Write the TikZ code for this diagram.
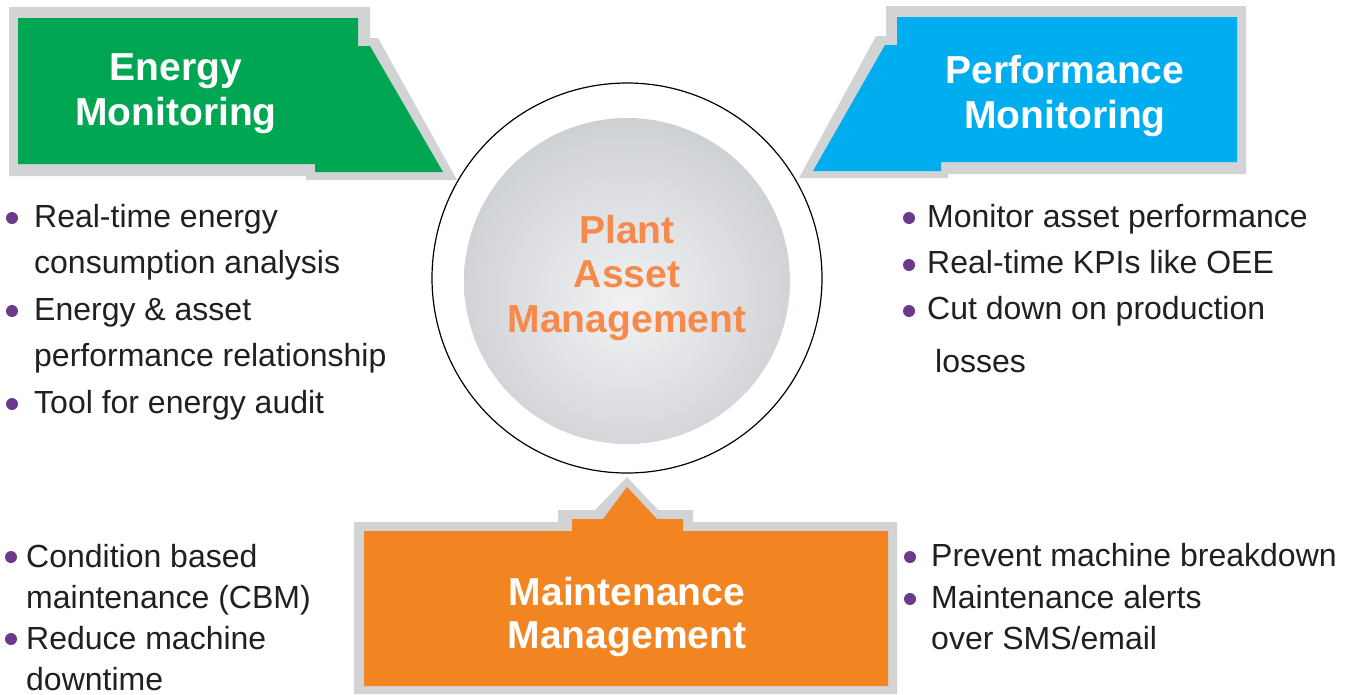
\documentclass[tikz,border=0pt]{standalone}
\usepackage{fontspec}
\setmainfont{Liberation Sans}
\definecolor{shadowgray}{RGB}{209,211,212}
\definecolor{emgreen}{RGB}{0,166,81}
\definecolor{pmblue}{RGB}{0,174,239}
\definecolor{mmorange}{RGB}{242,133,34}
\definecolor{hubtext}{RGB}{245,138,75}
\definecolor{bodytext}{RGB}{35,31,32}
\definecolor{dotpurple}{RGB}{108,58,140}
\pgfdeclareradialshading{diskshade}{\pgfpoint{0bp}{-4bp}}{rgb(0bp)=(0.95,0.95,0.96); rgb(25bp)=(0.82,0.83,0.84); rgb(54bp)=(0.63,0.64,0.66); rgb(60bp)=(0.63,0.64,0.66)}
\begin{document}
\begin{tikzpicture}[x=1pt,y=-1pt,
  title/.style={font=\fontsize{39}{44}\selectfont\bfseries, text=white, inner sep=0, anchor=base},
  item/.style={font=\fontsize{32}{38}\selectfont, text=bodytext, inner sep=0, anchor=base west},
  dot/.style={circle, fill=dotpurple, inner sep=0, minimum size=12},
  shadowshape/.style={fill=shadowgray}]
\useasboundingbox (0,0) rectangle (1356,694);
\fill[white] (0,0) rectangle (1356,694);

% central hub
\node[circle, draw=black, line width=1.2pt, minimum size=390, inner sep=0] (ring) at (627,278) {};
\node[circle, shade, shading=diskshade, minimum size=326, inner sep=0] (hub) at (627,281) {};
\node[title, text=hubtext] (pa1) at (627,243) {Plant};
\node[title, text=hubtext] (pa2) at (627,287.5) {Asset};
\node[title, text=hubtext] (pa3) at (627,332) {Management};

% Energy Monitoring
\fill[shadowshape] (9,7) -- (370,7) -- (370,38) -- (378,38) -- (457,180) -- (306,180) -- (306,176) -- (9,176) -- cycle;
\fill[emgreen] (18,18) -- (358,18) -- (358,46) -- (370,46) -- (443,172) -- (315,172) -- (315,164) -- (18,164) -- cycle;
\node[title] (em1) at (176,80) {Energy};
\node[title] (em2) at (176,125) {Monitoring};

% Performance Monitoring
\fill[shadowshape] (886,6) -- (1246,6) -- (1246,174) -- (948,174) -- (948,178) -- (799,178) -- (876,36) -- (886,36) -- cycle;
\fill[pmblue] (897,17) -- (1237,17) -- (1237,162) -- (941,162) -- (941,171) -- (813,171) -- (885,45) -- (897,45) -- cycle;
\node[title] (pm1) at (1065,83) {Performance};
\node[title] (pm2) at (1065,128) {Monitoring};

% Maintenance Management
\fill[shadowshape] (354,522) -- (558,522) -- (558,510) -- (595,510) -- (627,477) -- (658,510) -- (693,510) -- (693,522) -- (897,522) -- (897,694) -- (354,694) -- cycle;
\fill[mmorange] (364,531) -- (572,531) -- (572,519) -- (603,519) -- (627,487) -- (657,519) -- (683,519) -- (683,531) -- (888,531) -- (888,686) -- (364,686) -- cycle;
\node[title] (mm1) at (627,605) {Maintenance};
\node[title] (mm2) at (627,648) {Management};

% top-left list
\node[dot] (d1) at (12,218) {};
\node[item] (t1) at (34,227) {Real-time energy};
\node[item] (t2) at (34,273) {consumption analysis};
\node[dot] (d2) at (12,311) {};
\node[item] (t3) at (34,320) {Energy \& asset};
\node[item] (t4) at (34,366) {performance relationship};
\node[dot] (d3) at (12,404) {};
\node[item] (t5) at (34,413) {Tool for energy audit};

% top-right list
\node[dot] (d4) at (909,218) {};
\node[item] (r1) at (927,227) {Monitor asset performance};
\node[dot] (d5) at (909,265) {};
\node[item] (r2) at (927,273) {Real-time KPIs like OEE};
\node[dot] (d6) at (909,311) {};
\node[item] (r3) at (927,319) {Cut down on production};
\node[item] (r4) at (935,372) {losses};

% bottom-left list
\node[dot] (d7) at (11,557) {};
\node[item] (l1) at (26,567) {Condition based};
\node[item] (l2) at (26,608) {maintenance (CBM)};
\node[dot] (d8) at (11,639) {};
\node[item] (l3) at (26,649) {Reduce machine};
\node[item] (l4) at (26,690) {downtime};

% bottom-right list
\node[dot] (d9) at (910,557) {};
\node[item] (m1) at (931,566) {Prevent machine breakdown};
\node[dot] (d10) at (910,599) {};
\node[item] (m2) at (931,608) {Maintenance alerts};
\node[item] (m3) at (931,649) {over SMS/email};
\end{tikzpicture}
\end{document}
